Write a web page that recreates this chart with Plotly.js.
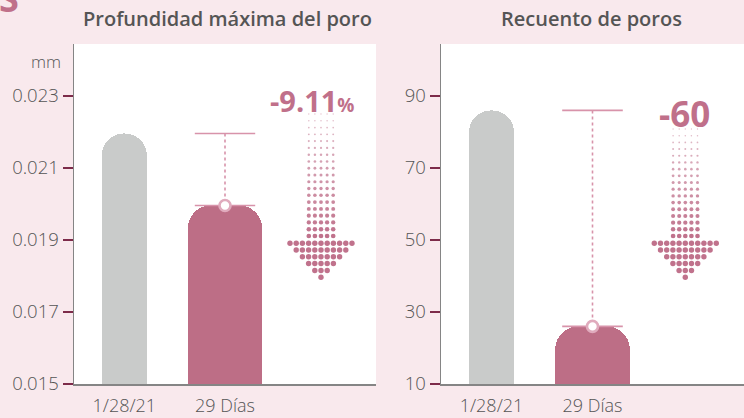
<!DOCTYPE html>
<html>
<head>
<meta charset="utf-8">
<script src="https://cdn.plot.ly/plotly-3.0.1.min.js"></script>
<style>html,body{margin:0;padding:0;background:#f9e9ed;}#chart{width:744px;height:418px;}</style>
</head>
<body>
<div id="chart"></div>
<script>
// ---- data ----
const categories = ['1/28/21', '29 Días'];
const depthValues = [0.02196, 0.01996];
const countValues = [86, 26];
const depthTicks = [0.015, 0.017, 0.019, 0.021, 0.023];
const depthTickText = ['0.015', '0.017', '0.019', '0.021', '0.023'];
const countTicks = [10, 30, 50, 70, 90];
const depthTitle = 'Profundidad máxima del poro';
const countTitle = 'Recuento de poros';
const depthUnit = 'mm';
const depthChange = '-9.11';
const countChange = '-60';

// ---- styles ----
const FONT = 'Open Sans, Noto Sans, sans-serif';
const GREY = '#c9cbca';
const ROSE = '#bd6e86';
const LINE_ROSE = '#d893aa';
const TXT = '#555555';
const TICK = '#7d2b4a';
const W = 744, H = 418;
const yDom = [34 / H, 374 / H];
const leftDom = [74 / W, 376 / W];
const rightDom = [441 / W, 1];

// decorative dotted arrow in local pixel coords
function arrowDots(cx, shaftTop, shaftRows) {
  const xs = [], ys = [], sz = [], op = [];
  const colStep = 6.1, headStep = 6.2, rowStep = (192 - shaftTop) / (shaftRows - 1);
  for (let r = 0; r < shaftRows; r++) {
    const t = r / (shaftRows - 1);
    for (let c = -2; c <= 2; c++) {
      xs.push(cx + c * colStep); ys.push(shaftTop + r * rowStep);
      sz.push(1.3 + 3.4 * t); op.push(0.45 + 0.55 * t);
    }
  }
  const headY = [199.3, 206, 212.7, 219.5, 226.5, 233.3];
  const headN = [11, 9, 7, 5, 3, 1];
  headY.forEach((y, i) => {
    const n = headN[i];
    for (let c = 0; c < n; c++) {
      xs.push(cx + (c - (n - 1) / 2) * headStep); ys.push(y);
      sz.push(5.4); op.push(1);
    }
  });
  return {xs, ys, sz, op};
}

function panelTraces(vals, xa, ya, ox, oy, arrow) {
  return [
    {type: 'bar', x: [0, 1], y: vals, width: [0.447, 0.74],
     marker: {color: [GREY, ROSE], cornerradius: 23, line: {width: 0}},
     xaxis: xa, yaxis: ya, hoverinfo: 'skip'},
    {type: 'scatter', mode: 'lines', x: [0.7, 1.3], y: [vals[0], vals[0]],
     line: {color: LINE_ROSE, width: 1.6}, xaxis: xa, yaxis: ya, hoverinfo: 'skip'},
    {type: 'scatter', mode: 'lines', x: [0.7, 1.3], y: [vals[1], vals[1]],
     line: {color: LINE_ROSE, width: 1.6}, xaxis: xa, yaxis: ya, hoverinfo: 'skip'},
    {type: 'scatter', mode: 'lines', x: [1, 1], y: [vals[0], vals[1]],
     line: {color: LINE_ROSE, width: 1.6, dash: 'dot'}, xaxis: xa, yaxis: ya, hoverinfo: 'skip'},
    {type: 'scatter', mode: 'markers', x: [1], y: [vals[1]],
     marker: {size: 11, color: '#ffffff', line: {color: '#e0abbd', width: 2.6}},
     xaxis: xa, yaxis: ya, hoverinfo: 'skip'},
    {type: 'scatter', mode: 'markers', x: arrow.xs, y: arrow.ys,
     marker: {size: arrow.sz, opacity: arrow.op, color: '#c0728c', line: {width: 0}},
     xaxis: ox, yaxis: oy, hoverinfo: 'skip'}
  ];
}

const leftArrow = arrowDots(247, 70, 19);
const rightArrow = arrowDots(244.3, 85, 17);

const data = [
  ...panelTraces(depthValues, 'x', 'y', 'x3', 'y3', leftArrow),
  ...panelTraces(countValues, 'x2', 'y2', 'x4', 'y4', rightArrow)
];

function xAxis(dom, anchor) {
  return {domain: dom, anchor: anchor, range: [-0.5, 2.5], tickvals: [0, 1], ticktext: categories,
    showgrid: false, zeroline: false, showline: true, linecolor: '#858585', linewidth: 1.5,
    ticks: '', ticklabelstandoff: 5, tickfont: {family: FONT, size: 18, color: TXT, weight: 300}, fixedrange: true};
}
function yAxis(dom, anchor, range, tv, tt) {
  return {domain: dom, anchor: anchor, range: range, tickvals: tv, ticktext: tt,
    showgrid: false, zeroline: false, showline: true, linecolor: '#858585', linewidth: 1.5,
    ticks: 'outside', ticklen: 10, tickwidth: 1.5, tickcolor: TICK,
    tickfont: {family: FONT, size: 18.5, color: TXT, weight: 300}, fixedrange: true};
}

const layout = {
  width: W, height: H,
  margin: {l: 0, r: 0, t: 0, b: 0},
  paper_bgcolor: '#f9e9ed', plot_bgcolor: '#ffffff',
  showlegend: false, bargap: 0,
  xaxis: xAxis(leftDom, 'y'),
  yaxis: yAxis(yDom, 'x', [0.015, 0.015 + 340 / 36000], depthTicks, depthTickText),
  xaxis2: xAxis(rightDom, 'y2'),
  yaxis2: yAxis(yDom, 'x2', [10, 10 + 340 / 3.6], countTicks, countTicks.map(String)),
  xaxis3: {overlaying: 'x', anchor: 'y3', range: [0, 302], visible: false, fixedrange: true},
  yaxis3: {overlaying: 'y', anchor: 'x3', range: [340, 0], visible: false, fixedrange: true},
  xaxis4: {overlaying: 'x2', anchor: 'y4', range: [0, 303], visible: false, fixedrange: true},
  yaxis4: {overlaying: 'y2', anchor: 'x4', range: [340, 0], visible: false, fixedrange: true},
  annotations: [
    {text: depthTitle, xref: 'paper', yref: 'paper', x: 227 / W, y: 1 - 19 / H,
     xanchor: 'center', yanchor: 'middle', showarrow: false,
     font: {family: FONT, size: 20, color: TXT, weight: 600}},
    {text: countTitle, xref: 'paper', yref: 'paper', x: 591 / W, y: 1 - 19 / H,
     xanchor: 'center', yanchor: 'middle', showarrow: false,
     font: {family: FONT, size: 20, color: TXT, weight: 600}},
    {text: depthUnit, xref: 'paper', yref: 'paper', x: 63 / W, y: 1 - 61 / H,
     xanchor: 'right', yanchor: 'middle', showarrow: false,
     font: {family: FONT, size: 17, color: TXT, weight: 300}},
    {text: depthChange + '<span style="font-size:19px">%</span>', xref: 'paper', yref: 'paper',
     x: 312 / W, y: 1 - 100 / H, xanchor: 'center', yanchor: 'middle', showarrow: false,
     font: {family: FONT, size: 29, color: '#c0708a', weight: 700}},
    {text: countChange, xref: 'paper', yref: 'paper',
     x: 684 / W, y: 1 - 113 / H, xanchor: 'center', yanchor: 'middle', showarrow: false,
     font: {family: FONT, size: 35, color: '#c0708a', weight: 700}},
    {text: 'S', xref: 'paper', yref: 'paper', x: 9 / W, y: 1 + 1 / H,
     xanchor: 'center', yanchor: 'middle', showarrow: false,
     font: {family: FONT, size: 36, color: '#c0708a', weight: 700}}
  ]
};

Plotly.newPlot('chart', data, layout, {displayModeBar: false, staticPlot: true});
</script>
</body>
</html>
